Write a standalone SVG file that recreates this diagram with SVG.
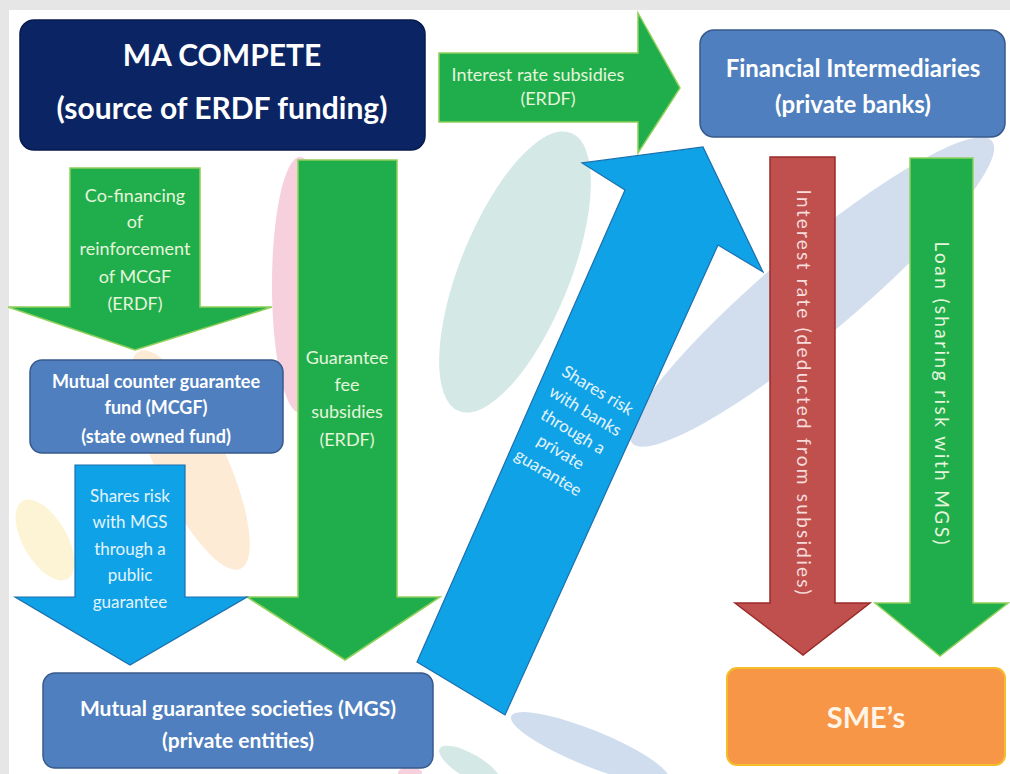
<svg xmlns="http://www.w3.org/2000/svg" width="1010" height="774" viewBox="0 0 1010 774">
<style>
.t{font-family:Lato,"Liberation Sans",sans-serif;text-anchor:middle}
.g{fill:#1fae4b;stroke:#8fd05a;stroke-width:1.5}
.b{fill:#0fa2e6;stroke:#1b6fae;stroke-width:1.2}
.r{fill:#c0504d;stroke:#9a2b28;stroke-width:1.5}
.box{fill:#4f7fbe;stroke:#37598c;stroke-width:1.5}
.gl{fill:#e6f5dc;font-size:18px}
.bl{fill:#e3f4fd;font-size:17px}
.wl{fill:#ffffff;font-weight:700}
</style>
<rect x="0" y="0" width="1010" height="774" fill="#ffffff"/>
<rect x="0" y="0" width="1010" height="10" fill="#e6e6e6"/>
<rect x="0" y="0" width="9" height="774" fill="#e6e6e6"/>
<g id="background">
<ellipse cx="300" cy="285" rx="28" ry="128" fill="#f6d0dc"/>
<ellipse cx="515" cy="272" rx="55" ry="150" fill="#d4e8e5" transform="rotate(22 515 272)"/>
<ellipse cx="812" cy="292" rx="235" ry="44" fill="#d2deee" transform="rotate(-40 812 292)"/>
<ellipse cx="590" cy="748" rx="85" ry="18" fill="#d0ddee" transform="rotate(22 590 748)"/>
<ellipse cx="470" cy="766" rx="35" ry="12" fill="#d4e8e5" transform="rotate(30 470 766)"/>
<ellipse cx="410" cy="773" rx="12" ry="6" fill="#f6d0dc"/>
<ellipse cx="190" cy="460" rx="35" ry="120" fill="#fdebd6" transform="rotate(-25 190 460)"/>
<ellipse cx="45" cy="540" rx="22" ry="45" fill="#fdf4d6" transform="rotate(-30 45 540)"/>
</g>
<g id="connectors">
<g id="arrow-interest-subsidies">
<path class="g" d="M439,53 H638 V13 L680,88 L638,153 V122 H439 Z"/>
<text class="t gl" x="538" y="81" font-size="15">Interest rate subsidies</text>
<text class="t gl" x="548" y="105" font-size="15">(ERDF)</text>
</g>
<g id="arrow-cofinancing">
<path class="g" d="M70,168 H200 V307 H272 L135,350 L8,307 H70 Z"/>
<text class="t gl" x="135" y="202">Co-financing</text>
<text class="t gl" x="135" y="228">of</text>
<text class="t gl" x="135" y="255">reinforcement</text>
<text class="t gl" x="135" y="283">of MCGF</text>
<text class="t gl" x="135" y="310">(ERDF)</text>
</g>
<g id="arrow-guarantee-fee">
<path class="g" d="M298,160 H397 V597 H440 L345,660 L247,597 H298 Z"/>
<text class="t gl" x="347" y="364">Guarantee</text>
<text class="t gl" x="347" y="391">fee</text>
<text class="t gl" x="347" y="418">subsidies</text>
<text class="t gl" x="347" y="446">(ERDF)</text>
</g>
<g id="arrow-public-guarantee">
<path class="b" d="M75,465 H185 V597 H247 L130,665 L15,597 H75 Z"/>
<text class="t bl" x="130" y="502">Shares risk</text>
<text class="t bl" x="130" y="528">with MGS</text>
<text class="t bl" x="130" y="555">through a</text>
<text class="t bl" x="130" y="581">public</text>
<text class="t bl" x="130" y="608">guarantee</text>
</g>
<g id="arrow-private-guarantee">
<path class="b" d="M417,662 L625,190 L582,163 L703,147 L763,272 L718,245 L505,715 Z"/>
<g transform="translate(572,433) rotate(31)">
<text class="t bl" x="0" y="-44" font-size="16">Shares risk</text>
<text class="t bl" x="0" y="-20" font-size="16">with banks</text>
<text class="t bl" x="0" y="4" font-size="16">through a</text>
<text class="t bl" x="0" y="28" font-size="16">private</text>
<text class="t bl" x="0" y="52" font-size="16">guarantee</text>
</g>
</g>
<g id="arrow-interest-rate">
<path class="r" d="M770,157 H835 V603 H870 L803,655 L735,603 H770 Z"/>
<text class="t" fill="#f6dcdb" font-size="19" x="0" y="6" textLength="405" lengthAdjust="spacing" transform="translate(803,392) rotate(90)">Interest rate (deducted from subsidies)</text>
</g>
<g id="arrow-loan">
<path class="g" d="M910,158 H973 V603 H1008 L940,656 L875,603 H910 Z"/>
<text class="t" fill="#e6f5dc" font-size="19" x="0" y="6" textLength="303" lengthAdjust="spacing" transform="translate(941,393) rotate(90)">Loan (sharing risk with MGS)</text>
</g>
</g>
<g id="node-ma-compete">
<rect x="20" y="20" width="405" height="130" rx="14" fill="#0b2464" stroke="#071a4c" stroke-width="1.5"/>
<text class="t wl" x="222" y="66" font-size="30">MA COMPETE</text>
<text class="t wl" x="222" y="119" font-size="30">(source of ERDF funding)</text>
</g>
<g id="node-financial-intermediaries">
<rect class="box" x="700" y="30" width="305" height="107" rx="14"/>
<text class="t wl" x="853" y="77" font-size="24">Financial Intermediaries</text>
<text class="t wl" x="853" y="113" font-size="24">(private banks)</text>
</g>
<g id="node-mcgf">
<rect class="box" x="30" y="360" width="253" height="93" rx="12"/>
<text class="t wl" x="156" y="388" font-size="18">Mutual counter guarantee</text>
<text class="t wl" x="156" y="414" font-size="18">fund (MCGF)</text>
<text class="t wl" x="156" y="443" font-size="18" font-weight="400">(state owned fund)</text>
</g>
<g id="node-mgs">
<rect class="box" x="43" y="673" width="390" height="95" rx="12"/>
<text class="t wl" x="238" y="716" font-size="21">Mutual guarantee societies (MGS)</text>
<text class="t wl" x="238" y="748" font-size="21">(private entities)</text>
</g>
<g id="node-sme">
<rect x="727" y="668" width="278" height="97" rx="10" fill="#f79646" stroke="#f6bd2a" stroke-width="2"/>
<text class="t" x="866" y="728" font-size="29" font-weight="700" fill="#fff4e6">SME’s</text>
</g>
</svg>
